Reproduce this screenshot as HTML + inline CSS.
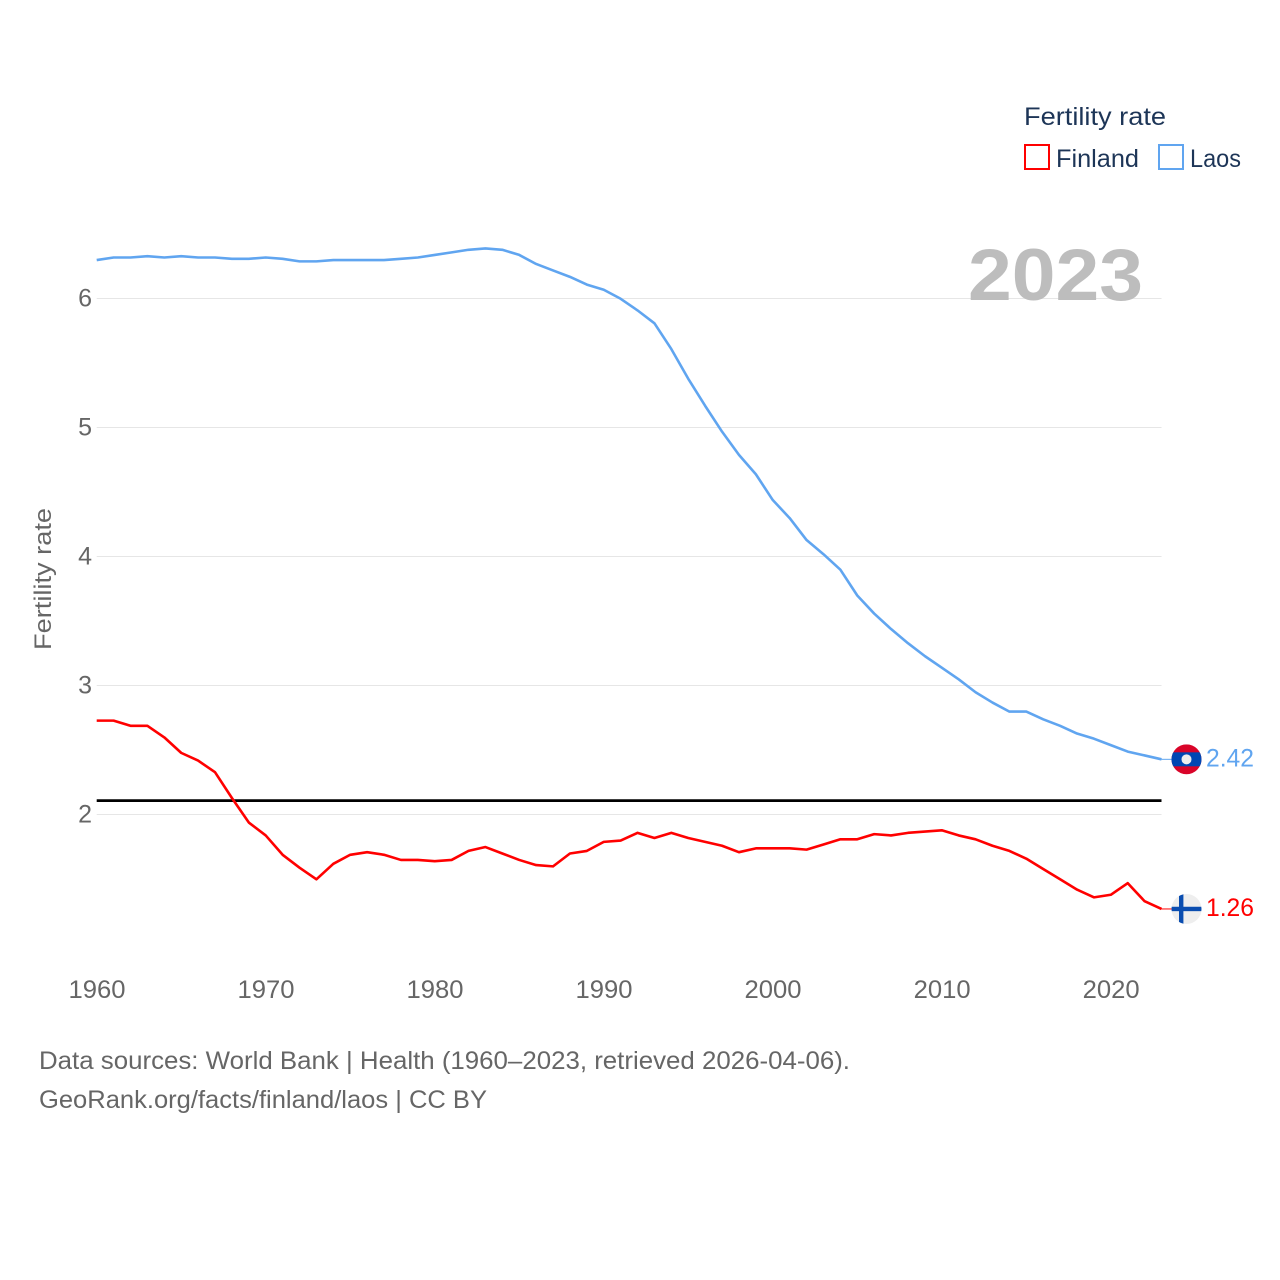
<!DOCTYPE html>
<html lang="en">
<head>
<meta charset="utf-8">
<title>Fertility rate: Finland and Laos</title>
<style>
html,body{margin:0;padding:0;background:#fff;}
svg{display:block;font-family:"Liberation Sans",sans-serif;}
</style>
</head>
<body>
<svg id="chart" xmlns="http://www.w3.org/2000/svg" width="1280" height="1280" viewBox="0 0 1280 1280">
  <rect width="1280" height="1280" fill="#fff"/>
  <g id="grid"></g>
  <g id="yLabels"></g>
  <g id="xLabels"></g>
  <text x="968" y="300" font-size="73" font-weight="700" fill="#bdbdbd" textLength="175" lengthAdjust="spacingAndGlyphs">2023</text>
  <text transform="translate(51 650) rotate(-90)" font-size="24.5" fill="#666" textLength="142" lengthAdjust="spacingAndGlyphs">Fertility rate</text>
  <g id="series"></g>
  <g id="flags"></g>
  <g>
    <text x="1024" y="125" font-size="25" fill="#1d3557" textLength="142" lengthAdjust="spacingAndGlyphs">Fertility rate</text>
    <g>
      <rect x="1025" y="145" width="24" height="24" fill="#fff" stroke="#ff0000" stroke-width="2"/>
      <text x="1056" y="167" font-size="25" fill="#1d3557" textLength="83" lengthAdjust="spacingAndGlyphs">Finland</text>
    </g>
    <g>
      <rect x="1159" y="145" width="24" height="24" fill="#fff" stroke="#60a5f0" stroke-width="2"/>
      <text x="1190" y="167" font-size="25" fill="#1d3557" textLength="51" lengthAdjust="spacingAndGlyphs">Laos</text>
    </g>
  </g>
  <g>
    <text x="39" y="1069" font-size="25" fill="#666" textLength="811" lengthAdjust="spacingAndGlyphs">Data sources: World Bank | Health (1960–2023, retrieved 2026-04-06).</text>
    <text x="39" y="1108" font-size="25" fill="#666" textLength="448" lengthAdjust="spacingAndGlyphs">GeoRank.org/facts/finland/laos | CC BY</text>
  </g>
</svg>
<script>
const startYear = 1960;
const finlandValues = [2.72,2.72,2.68,2.68,2.59,2.47,2.41,2.32,2.12,1.93,1.83,1.68,1.58,1.49,1.61,1.68,1.70,1.68,1.64,1.64,1.63,1.64,1.71,1.74,1.69,1.64,1.60,1.59,1.69,1.71,1.78,1.79,1.85,1.81,1.85,1.81,1.78,1.75,1.70,1.73,1.73,1.73,1.72,1.76,1.80,1.80,1.84,1.83,1.85,1.86,1.87,1.83,1.80,1.75,1.71,1.65,1.57,1.49,1.41,1.35,1.37,1.46,1.32,1.26];
const laosValues = [6.29,6.31,6.31,6.32,6.31,6.32,6.31,6.31,6.30,6.30,6.31,6.30,6.28,6.28,6.29,6.29,6.29,6.29,6.30,6.31,6.33,6.35,6.37,6.38,6.37,6.33,6.26,6.21,6.16,6.10,6.06,5.99,5.90,5.80,5.60,5.37,5.16,4.96,4.78,4.63,4.43,4.29,4.12,4.01,3.89,3.69,3.55,3.43,3.32,3.22,3.13,3.04,2.94,2.86,2.79,2.79,2.73,2.68,2.62,2.58,2.53,2.48,2.45,2.42];
const replacementRate = [2.1];
const yTickLabels = [2,3,4,5,6];
const xTickLabels = [1960,1970,1980,1990,2000,2010,2020];

const NS = 'http://www.w3.org/2000/svg';
const xScale = year => 96.7 + (year - 1960) * (1161.5 - 96.7) / 63;
const yScale = value => 814.5 - (value - 2) * 129;
const ySeries = value => yScale(value) - 1;
const lastYear = startYear + finlandValues.length - 1;

function make(tag, attrs, parent, text) {
  const el = document.createElementNS(NS, tag);
  Object.keys(attrs).forEach(k => el.setAttribute(k, attrs[k]));
  if (text !== undefined) el.textContent = text;
  parent.appendChild(el);
  return el;
}

const grid = document.getElementById('grid');
const yLabels = document.getElementById('yLabels');
const xLabels = document.getElementById('xLabels');
const series = document.getElementById('series');
const flags = document.getElementById('flags');

yTickLabels.forEach(t => {
  const line = make('line', {x1: xScale(1960), x2: xScale(2023), y1: yScale(t), y2: yScale(t), stroke: '#e6e6e6', 'stroke-width': 1}, grid);
  
  
  const label = make('text', {x: 92, y: yScale(t) + 8, 'text-anchor': 'end', 'font-size': 25, fill: '#666'}, yLabels, String(t));
  
  
});

xTickLabels.forEach(t => {
  const label = make('text', {x: xScale(t) + 0.3, y: 998, 'text-anchor': 'middle', 'font-size': 25, fill: '#666', textLength: 57, lengthAdjust: 'spacingAndGlyphs'}, xLabels, String(t));
  
  
});

function points(values) {
  return values.map((v, i) => xScale(startYear + i).toFixed(2) + ',' + ySeries(v).toFixed(2)).join(' ');
}

const refLine = make('line', {x1: xScale(1960), x2: xScale(2023), y1: ySeries(replacementRate[0]), y2: ySeries(replacementRate[0]), stroke: '#000', 'stroke-width': 2.8}, series);



const finlandLine = make('polyline', {points: points(finlandValues), fill: 'none', stroke: '#ff0000', 'stroke-width': 2.6, 'stroke-linejoin': 'round'}, series);



const laosLine = make('polyline', {points: points(laosValues), fill: 'none', stroke: '#60a5f0', 'stroke-width': 2.6, 'stroke-linejoin': 'round'}, series);



const laosEnd = laosValues[laosValues.length - 1];
const finlandEnd = finlandValues[finlandValues.length - 1];
const flagX = xScale(lastYear) + 25;

const laosStub = make('line', {x1: xScale(lastYear), x2: flagX - 15, y1: ySeries(laosEnd), y2: ySeries(laosEnd), stroke: '#60a5f0', 'stroke-width': 1}, series);



const finlandStub = make('line', {x1: xScale(lastYear), x2: flagX - 15, y1: ySeries(finlandEnd), y2: ySeries(finlandEnd), stroke: '#ff0000', 'stroke-width': 1}, series);



const defs = make('defs', {}, flags);
const clip = make('clipPath', {id: 'flagClip'}, defs);
make('circle', {cx: 0, cy: 0, r: 15}, clip);

const laosFlag = make('g', {transform: 'translate(' + flagX + ' ' + ySeries(laosEnd) + ')', 'clip-path': 'url(#flagClip)'}, flags);


make('rect', {x: -15, y: -15, width: 30, height: 30, fill: '#d90429'}, laosFlag);
make('rect', {x: -15, y: -7, width: 30, height: 14, fill: '#0047b3'}, laosFlag);
make('circle', {cx: 0, cy: 0, r: 5, fill: '#eee'}, laosFlag);

const finlandFlag = make('g', {transform: 'translate(' + flagX + ' ' + ySeries(finlandEnd) + ')', 'clip-path': 'url(#flagClip)'}, flags);


make('rect', {x: -15, y: -15, width: 30, height: 30, fill: '#eeeeee'}, finlandFlag);
make('rect', {x: -15, y: -2.2, width: 30, height: 4.4, fill: '#0a4db0'}, finlandFlag);
make('rect', {x: -7.5, y: -15, width: 4.4, height: 30, fill: '#0a4db0'}, finlandFlag);

const laosValueLabel = make('text', {x: 1206, y: ySeries(laosEnd) + 7, 'font-size': 25, fill: '#60a5f0', textLength: 48, lengthAdjust: 'spacingAndGlyphs'}, flags, laosEnd.toFixed(2));



const finlandValueLabel = make('text', {x: 1206, y: ySeries(finlandEnd) + 7, 'font-size': 25, fill: '#ff0000', textLength: 48, lengthAdjust: 'spacingAndGlyphs'}, flags, finlandEnd.toFixed(2));


</script>
</body>
</html>
